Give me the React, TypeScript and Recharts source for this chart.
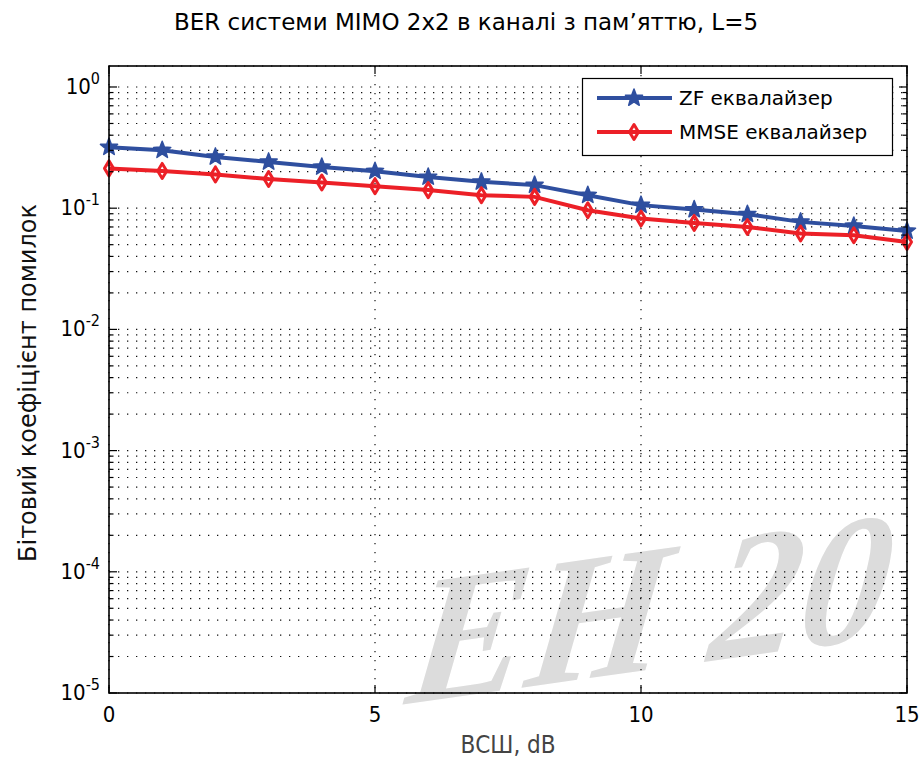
import React from "react";
import { LineChart, Line, XAxis, YAxis, CartesianGrid } from "recharts";

// SNR points, dB
const snrDb = [0, 1, 2, 3, 4, 5, 6, 7, 8, 9, 10, 11, 12, 13, 14, 15];
const zfBer = [0.319, 0.301, 0.265, 0.241, 0.219, 0.202, 0.181, 0.165, 0.155, 0.128, 0.106, 0.0976, 0.0892, 0.0771, 0.0714, 0.0649];
const mmseBer = [0.213, 0.203, 0.19, 0.174, 0.163, 0.152, 0.141, 0.128, 0.124, 0.0962, 0.0822, 0.0756, 0.07, 0.0618, 0.0598, 0.0527];
const xTicks = [0, 5, 10, 15];
const decades = [-5, -4, -3, -2, -1, 0];

const TITLE = "BER системи MIMO 2x2 в каналі з пам’яттю, L=5";
const X_LABEL = "ВСШ, dB";
const Y_LABEL = "Бітовий коефіцієнт помилок";
const ZF_NAME = "ZF еквалайзер";
const MMSE_NAME = "MMSE еквалайзер";
const WATERMARK = "ЕН 20";

const data = snrDb.map((x, i) => ({ x, zf: zfBer[i], mmse: mmseBer[i] }));

// every 1..9 x 10^k line of the log grid
const yTicks: number[] = [];
decades.forEach((d) => {
  if (d === 0) {
    yTicks.push(1);
    return;
  }
  for (let m = 1; m <= 9; m++) yTicks.push(+(m * Math.pow(10, d)).toPrecision(3));
});

const W = 924;
const H = 760;
const L = 109;
const R = 907;
const T = 66;
const B = 693;

const BLUE = "#2f4f9f";
const RED = "#ec2027";
const FONT = "'DejaVu Sans Condensed', 'DejaVu Sans', sans-serif";

const starPath = (cx: number, cy: number, ro: number, ri: number) => {
  let d = "";
  for (let i = 0; i < 10; i++) {
    const r = i % 2 === 0 ? ro : ri;
    const a = -Math.PI / 2 + (i * Math.PI) / 5;
    d += (i === 0 ? "M" : "L") + (cx + r * Math.cos(a)).toFixed(2) + "," + (cy + r * Math.sin(a)).toFixed(2);
  }
  return d + "Z";
};

const StarDot = (props: any) => {
  const { cx, cy, index } = props;
  if (cx == null || cy == null) return null;
  return <path key={"s" + index} d={starPath(cx, cy, 9, 3.8)} fill={BLUE} stroke={BLUE} strokeWidth={1.5} strokeLinejoin="round" />;
};

const DiamondDot = (props: any) => {
  const { cx, cy, index } = props;
  if (cx == null || cy == null) return null;
  return (
    <path
      key={"d" + index}
      d={`M${cx},${cy - 7.5}L${cx + 4.5},${cy}L${cx},${cy + 7.5}L${cx - 4.5},${cy}Z`}
      fill="none"
      stroke={RED}
      strokeWidth={3}
      strokeLinejoin="round"
    />
  );
};

const YTick = (props: any) => {
  const { y, payload } = props;
  const lg = Math.log10(payload.value);
  const major = Math.abs(lg - Math.round(lg)) < 1e-6;
  const len = major ? 8 : 4.5;
  return (
    <g>
      <line x1={L} x2={L + len} y1={y} y2={y} stroke="#000" strokeWidth={1.2} />
      <line x1={R - len} x2={R} y1={y} y2={y} stroke="#000" strokeWidth={1.2} />
      {major && (
        <text x={L - 9} y={y + 7} textAnchor="end" fill="#000" fontFamily={FONT} fontStretch="condensed">
          <tspan fontSize={22}>10</tspan>
          <tspan fontSize={16} dy={-10}>{Math.round(lg)}</tspan>
        </text>
      )}
    </g>
  );
};

const XTick = (props: any) => {
  const { x, payload } = props;
  return (
    <g>
      <line x1={x} x2={x} y1={B} y2={B - 8} stroke="#000" strokeWidth={1.2} />
      <line x1={x} x2={x} y1={T} y2={T + 8} stroke="#000" strokeWidth={1.2} />
      <text x={x} y={B + 29} textAnchor="middle" fill="#000" fontSize={22} fontFamily={FONT} fontStretch="condensed">
        {payload.value}
      </text>
    </g>
  );
};

const LegendBox = () => (
  <svg width={W} height={H} style={{ position: "absolute", left: 0, top: 0, pointerEvents: "none" }}>
    <rect x={L} y={T} width={R - L} height={B - T} fill="none" stroke="#000" strokeWidth={1.6} />
    <rect x={582.5} y={78.5} width={310} height={77} fill="#fff" stroke="#000" strokeWidth={1.2} />
    <line x1={597} x2={672} y1={98} y2={98} stroke={BLUE} strokeWidth={4} />
    <StarDot cx={634} cy={98} index={0} />
    <text x={679} y={105} fontSize={20} fontFamily="'DejaVu Sans', sans-serif" fill="#000">{ZF_NAME}</text>
    <line x1={597} x2={672} y1={132} y2={132} stroke={RED} strokeWidth={4} />
    <DiamondDot cx={634} cy={132} index={0} />
    <text x={679} y={139} fontSize={20} fontFamily="'DejaVu Sans', sans-serif" fill="#000">{MMSE_NAME}</text>
  </svg>
);

export default function App() {
  return (
    <div style={{ position: "absolute", left: 0, top: 0, width: W, height: H, background: "#fff", overflow: "hidden" }}>
      <div
        style={{
          position: "absolute",
          left: 400,
          top: 555,
          fontFamily: "'Liberation Serif', serif",
          fontStyle: "italic",
          fontWeight: "bold",
          fontSize: 180,
          color: "#dcdcdc",
          whiteSpace: "nowrap",
          transform: "rotate(-8deg) skewX(-15deg)",
          transformOrigin: "0 100%",
          lineHeight: 1,
        }}
      >
        {WATERMARK}
      </div>
      <div style={{ position: "absolute", left: 0, top: 0 }}>
        <LineChart width={W} height={H} data={data} margin={{ top: T, right: W - R, bottom: 27, left: 9 }}>
          <CartesianGrid stroke="#111" strokeDasharray="1.3 7.7" strokeWidth={1.2} />
          <XAxis
            dataKey="x"
            type="number"
            domain={[0, 15]}
            ticks={xTicks}
            height={40}
            axisLine={false}
            tickLine={false}
            tick={<XTick />}
            interval={0}
          />
          <YAxis
            type="number"
            scale="log"
            domain={[1e-5, 1.49]}
            allowDataOverflow
            ticks={yTicks}
            width={100}
            axisLine={false}
            tickLine={false}
            tick={<YTick />}
            interval={0}
          />
          <Line dataKey="zf" stroke={BLUE} strokeWidth={4} dot={<StarDot />} isAnimationActive={false} />
          <Line dataKey="mmse" stroke={RED} strokeWidth={4} dot={<DiamondDot />} isAnimationActive={false} />
        </LineChart>
      </div>
      <LegendBox />
      <div
        style={{
          position: "absolute",
          left: 0,
          width: 932,
          top: 9,
          textAlign: "center",
          fontFamily: "'DejaVu Sans', sans-serif",
          fontSize: 23,
          color: "#000",
          whiteSpace: "nowrap",
        }}
      >
        {TITLE}
      </div>
      <div
        style={{
          position: "absolute",
          left: 508,
          top: 745,
          transform: "translate(-50%, -50%)",
          fontFamily: FONT,
          fontSize: 24,
          color: "#444",
          whiteSpace: "nowrap",
        }}
      >
        {X_LABEL}
      </div>
      <div
        style={{
          position: "absolute",
          left: 28,
          top: 383,
          transform: "translate(-50%, -50%) rotate(-90deg)",
          fontFamily: "'DejaVu Sans', sans-serif",
          fontSize: 24,
          color: "#111",
          whiteSpace: "nowrap",
        }}
      >
        {Y_LABEL}
      </div>
    </div>
  );
}
